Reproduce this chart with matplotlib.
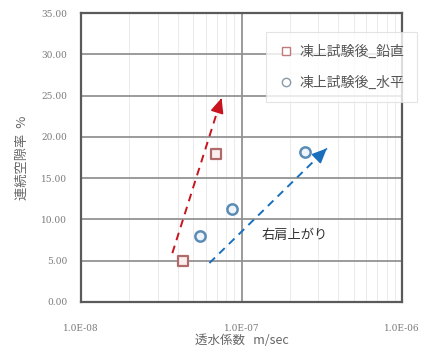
import numpy as np
import matplotlib
matplotlib.use("Agg")
import matplotlib.pyplot as plt
from matplotlib.ticker import LogLocator, FixedLocator, FixedFormatter
from matplotlib.lines import Line2D

plt.rcParams['font.family'] = ['Noto Sans CJK JP', 'DejaVu Sans']

# permeability (m/sec) vs continuous void ratio (%)
vert_k = [4.3e-8, 6.9e-8]
vert_void = [5.0, 17.9]
horiz_k = [5.5e-8, 8.7e-8, 2.5e-7]
horiz_void = [8.0, 11.3, 18.2]

series_labels = ["凍上試験後_鉛直", "凍上試験後_水平"]
x_ticks = [1e-8, 1e-7, 1e-6]
x_tick_labels = ["1.0E-08", "1.0E-07", "1.0E-06"]
y_ticks = [0, 5, 10, 15, 20, 25, 30, 35]

# trend arrows: (start_k, start_void) -> (end_k, end_void)
red_trend_k = [3.7e-8, 7.5e-8]
red_trend_v = [5.9, 24.7]
blue_trend_k = [6.3e-8, 3.4e-7]
blue_trend_v = [4.7, 18.6]
note_text = "右肩上がり"

fig = plt.figure(figsize=(4.25, 3.53), dpi=100)
ax = fig.add_axes([0.191, 0.145, 0.755, 0.818])

ax.set_xscale('log')
ax.set_xlim(1e-8, 1e-6)
ax.set_ylim(0, 35)

# grid
ax.xaxis.set_minor_locator(LogLocator(base=10, subs=np.arange(2, 10)))
ax.grid(which='minor', axis='x', color='#ebebeb', lw=0.7)
ax.grid(which='major', axis='both', color='#939393', lw=1.3)
ax.set_axisbelow(True)

ax.xaxis.set_major_locator(FixedLocator(x_ticks))
ax.xaxis.set_major_formatter(FixedFormatter(x_tick_labels))
ax.set_yticks(y_ticks)
ax.set_yticklabels([f"{v:.2f}" for v in y_ticks])
ax.tick_params(axis='both', which='both', length=0, labelsize=6.5,
               labelcolor='#7a7a7a')
ax.tick_params(axis='x', pad=16)
ax.tick_params(axis='y', pad=10)
for lab in ax.get_xticklabels() + ax.get_yticklabels():
    lab.set_family('DejaVu Serif')

for sp in ax.spines.values():
    sp.set_color('#5a5a5a')
    sp.set_linewidth(1.6)

ax.scatter(vert_k, vert_void, marker='s', s=55, facecolor='#fbeeee',
           edgecolor='#b06a6a', linewidth=1.6, zorder=4)
ax.scatter(horiz_k, horiz_void, marker='o', s=55, facecolor='#eef4fa',
           edgecolor='#5b8cb5', linewidth=1.8, zorder=4)


def trend_arrow(ks, vs, color):
    ax.plot(ks, vs, color=color, lw=1.4, ls=(0, (4, 3)), zorder=3)
    # solid arrowhead at the end of the dashed line
    lk0, lk1 = np.log10(ks[0]), np.log10(ks[1])
    frac = 0.985
    back_k = 10 ** (lk0 + (lk1 - lk0) * frac)
    back_v = vs[0] + (vs[1] - vs[0]) * frac
    ax.annotate('', xy=(ks[1], vs[1]), xytext=(back_k, back_v),
                arrowprops=dict(arrowstyle='-|>,head_length=0.9,head_width=0.4',
                                color=color, lw=1.2, shrinkA=0, shrinkB=0),
                zorder=3)


trend_arrow(red_trend_k, red_trend_v, '#c8141e')
trend_arrow(blue_trend_k, blue_trend_v, '#1a6fbd')

ax.text(1.33e-7, 8.0, note_text, fontsize=9.5, color='#333333',
        ha='left', va='center')

ax.set_xlabel("透水係数   m/sec", fontsize=9, color='#666666', labelpad=1)
ax.set_ylabel("連続空隙率  %", fontsize=9.5, color='#666666', labelpad=9)

handles = [
    Line2D([], [], marker='s', ls='none', markersize=6, markerfacecolor='white',
           markeredgecolor='#c07a7a', markeredgewidth=1.0),
    Line2D([], [], marker='o', ls='none', markersize=6, markerfacecolor='white',
           markeredgecolor='#8a9aa8', markeredgewidth=1.0),
]
leg = ax.legend(handles, series_labels, loc='upper right',
                bbox_to_anchor=(0.981, 0.909),
                bbox_transform=fig.transFigure, fontsize=10,
                frameon=True, fancybox=False, handletextpad=0.4,
                handlelength=1.1, labelspacing=1.2, borderpad=0.9,
                borderaxespad=0)
leg.get_frame().set_edgecolor('#dddddd')
leg.get_frame().set_linewidth(0.8)
for t in leg.get_texts():
    t.set_color('#555555')

fig.savefig("out.png", dpi=100)
